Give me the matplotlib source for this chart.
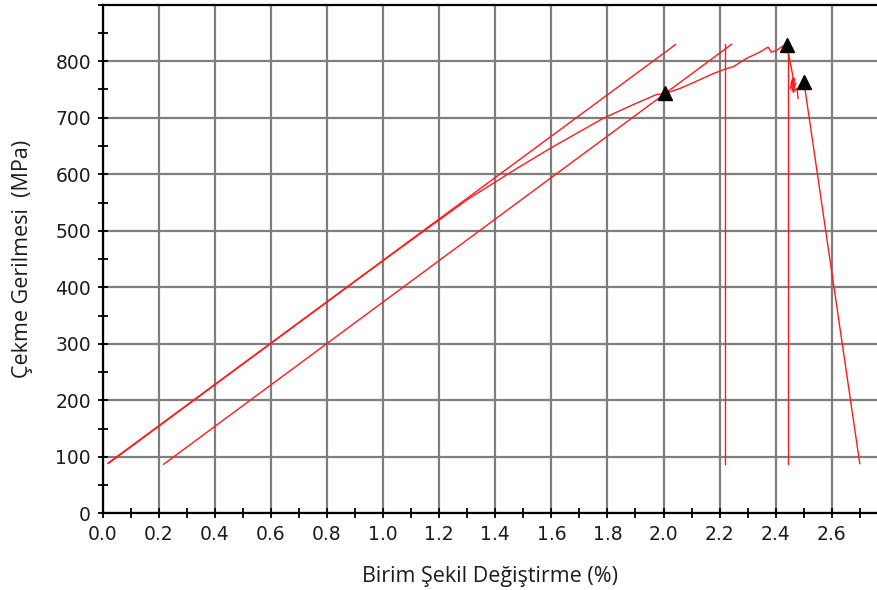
import matplotlib
matplotlib.use("Agg")
import matplotlib.pyplot as plt
from matplotlib.ticker import MultipleLocator

# test curve (strain %, stress MPa)
curve_strain = [0.02, 0.5, 1.0, 1.13, 1.3, 1.476, 1.6, 1.785, 1.9, 1.975, 2.007,
                2.06, 2.106, 2.177, 2.225, 2.248, 2.296, 2.343, 2.373, 2.385,
                2.403, 2.426, 2.44,
                2.462, 2.455, 2.465, 2.452, 2.468, 2.458, 2.472, 2.462, 2.476, 2.48]
curve_stress = [88, 264, 447, 494, 555, 610, 647, 699, 725, 741, 743,
                752, 762, 778, 787, 790, 805, 816, 825, 816,
                819, 827, 828,
                772, 760, 770, 752, 768, 748, 762, 745, 752, 734]

# elastic line and 0.2% offset line
elastic_strain = [0.019, 2.043]
elastic_stress = [88.8, 829.5]
offset_strain = [0.217, 2.243]
offset_stress = [86.7, 830]

# vertical markers and break line
vert1_strain = [2.221, 2.221]
vert1_stress = [830, 88]
vert2_strain = [2.443, 2.443]
vert2_stress = [828, 88]
break_strain = [2.501, 2.70]
break_stress = [763, 88]

# triangles
pts_strain = [2.007, 2.442, 2.501]
pts_stress = [743, 828, 763]

fig = plt.figure(figsize=(8.78, 5.90), dpi=100)
ax = fig.add_axes([0.117, 0.130, 0.883, 0.862])

red = "#ff1a1a"
lw = 1.0
ax.plot(elastic_strain, elastic_stress, color=red, lw=lw)
ax.plot(offset_strain, offset_stress, color=red, lw=lw)
ax.plot(curve_strain, curve_stress, color=red, lw=lw)
ax.plot(vert1_strain, vert1_stress, color=red, lw=lw)
ax.plot(vert2_strain, vert2_stress, color=red, lw=lw)
ax.plot(break_strain, break_stress, color=red, lw=lw)
ax.plot(pts_strain, pts_stress, ls="none", marker="^", color="black", markersize=10, zorder=5)

ax.set_xlim(0, 2.765)
ax.set_ylim(0, 900)
ax.xaxis.set_minor_locator(MultipleLocator(0.1))
ax.yaxis.set_minor_locator(MultipleLocator(50))
ax.set_xticks([i * 0.2 for i in range(14)])
ax.set_xticklabels(["%.1f" % (i * 0.2) for i in range(14)])
ax.set_yticks(range(0, 900, 100))

ax.grid(True, which="major", color="#7f7f7f", lw=1.6)
ax.set_axisbelow(True)
ax.tick_params(which="both", direction="inout", length=7, width=1.3, color="black",
               labelsize=13.5, labelcolor="#1c1c1c")
ax.tick_params(axis="x", pad=5)
ax.tick_params(axis="y", pad=5)
for s in ["left", "bottom", "top"]:
    ax.spines[s].set_linewidth(1.6)
ax.spines["right"].set_visible(False)

ax.set_xlabel("Birim Şekil Değiştirme (%)", fontsize=15.5, family="Open Sans",
              color="#1c1c1c", labelpad=16)
ax.set_ylabel("Çekme Gerilmesi  (MPa)", fontsize=15.5, family="Open Sans",
              color="#1c1c1c", labelpad=16)

fig.savefig("out.png", dpi=100)
